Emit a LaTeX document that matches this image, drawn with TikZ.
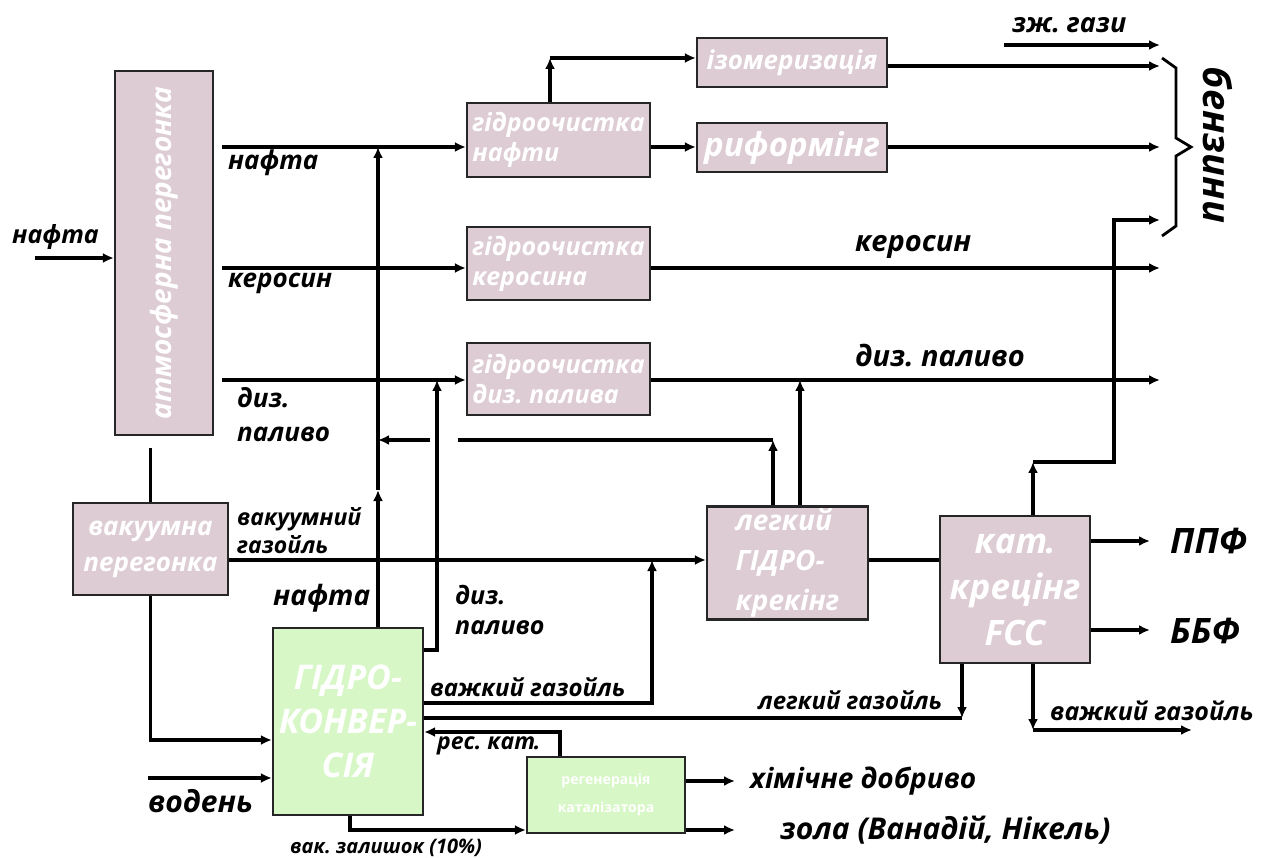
\documentclass[tikz,border=0pt]{standalone}
\usepackage{fontspec}
\setmainfont{Open Sans}
\usetikzlibrary{arrows.meta}
\definecolor{boxpink}{RGB}{221,204,211}
\definecolor{boxgreen}{RGB}{216,247,198}
\newcommand{\fs}[2]{\fontsize{#1}{#2}\selectfont}
\frenchspacing
\tikzset{
  ln/.style={line width=3.4pt, black},
  arr/.style={ln, -{Latex[length=11pt,width=10pt]}},
  pbox/.style={draw=black!85, line width=2.2pt, fill=boxpink, text=white,
    font=\bfseries\itshape\fs{25}{30}, inner sep=0pt, align=left},
  gbox/.style={pbox, fill=boxgreen},
  lbl/.style={font=\bfseries\itshape\fs{26}{30}, inner sep=0pt, anchor=west, align=left},
  slbl/.style={lbl, font=\bfseries\itshape\fs{23}{28}},
}
\begin{document}
\begin{tikzpicture}[x=1pt,y=-1pt]
\useasboundingbox (0,0) rectangle (1267,858);
% boxes
\node[pbox, minimum width=98pt, minimum height=364pt] (atm) at (164,253) {};
\node[text=white, font=\bfseries\itshape\fs{28}{30}, rotate=90] (atmtxt) at (atm.center) {атмосферна перегонка};
\node[pbox, minimum width=183pt, minimum height=74pt] (ghn) at (558.5,140) {гідроочистка\\нафти};
\node[pbox, minimum width=190pt, minimum height=49pt, font=\bfseries\itshape\fs{26}{30}] (iso) at (792,62.5) {ізомеризація};
\node[pbox, minimum width=190pt, minimum height=49pt, font=\bfseries\itshape\fs{33}{36}] (ref) at (792,147.5) {риформінг};
\node[pbox, minimum width=183pt, minimum height=73pt] (ghk) at (558.5,263.5) {гідроочистка\\керосина};
\node[pbox, minimum width=183pt, minimum height=72pt] (ghd) at (558.5,379) {гідроочистка\\диз. палива};
\node[pbox, minimum width=155pt, minimum height=92pt, align=center, font=\bfseries\itshape\fs{26}{36}] (vac) at (150.5,549) {вакуумна\\перегонка};
\node[gbox, minimum width=150pt, minimum height=187pt, align=center, font=\bfseries\itshape\fs{34}{44}] (gk) at (348,721.5) {ГІДРО-\\КОНВЕР-\\СІЯ};
\node[gbox, minimum width=158pt, minimum height=76pt, align=center, font=\bfseries\fs{14}{28}] (regen) at (606,795) {регенерація\\каталізатора};
\node[pbox, minimum width=161pt, minimum height=113pt, align=left, font=\bfseries\itshape\fs{28}{40}] (lhc) at (787.5,563) {легкий\\ГІДРО-\\крекінг};
\node[pbox, minimum width=150pt, minimum height=147pt, align=center, font=\bfseries\itshape\fs{35}{46}] (fcc) at (1015,589.5) {кат.\\крецінг\\FCC};

% coordinates
\coordinate (inA) at (35,258);
\coordinate (nafS) at (222,147);
\coordinate (kerS) at (222,268);
\coordinate (dizS) at (222,380);
\coordinate (isoT) at (550,58);
\coordinate (zhS) at (1004,45);
\coordinate (nv1) at (378,147);
\coordinate (nv2) at (378,490);
\coordinate (dv) at (437,380);
\coordinate (r1) at (773,440);
\coordinate (r2) at (458,440);
\coordinate (r3) at (430,440);
\coordinate (r4) at (378,440);
\coordinate (hv) at (800,380);
\coordinate (vtop) at (150.5,448);
\coordinate (hg) at (652,560);
\coordinate (lg) at (962,718);
\coordinate (fu) at (1033,462);
\coordinate (bz) at (1160,220);
\coordinate (hgd) at (1033,730);
\coordinate (hge) at (1192,730);
\coordinate (vodS) at (148,778);

% main streams
\draw[arr] (inA) -- (atm.west |- inA);
\draw[arr] (nafS) -- (ghn.west |- nafS);
\draw[arr] (kerS) -- (ghk.west |- kerS);
\draw[arr] (dizS) -- (ghd.west |- dizS);
\draw[arr] (ghn.north -| isoT) -- (isoT);
\draw[arr] (isoT) -- (iso.west |- isoT);
\draw[arr] (ghn.east |- nafS) -- (ref.west |- nafS);
\draw[arr] (iso.east |- 0,66) -- (1160,66);
\draw[arr] (ref.east |- nafS) -- (1160,147);
\draw[arr] (zhS) -- (1160,45);
\draw[arr] (ghk.east |- kerS) -- (1160,268);
\draw[arr] (ghd.east |- dizS) -- (1160,380);
% brace
\draw[line width=2.8pt, line join=miter] (1162,58) -- (1176,68) -- (1176,138) -- (1191,147) -- (1176,156) -- (1176,226) -- (1162,236);

% naphtha from hydroconversion
\draw[arr] (gk.north -| nv2) -- (nv2);
\draw[arr] (nv2) -- (nv1);
% diesel from hydroconversion
\draw[arr] (gk.east |- 0,650) -| (dv);
% return from light hydrocracking
\draw[arr] (lhc.north -| r1) -- (r1);
\draw[ln] (r1) -- (r2);
\draw[arr] (r3) -- (r4);
\draw[arr] (lhc.north -| hv) -- (hv);
% vacuum
\draw[ln] (vtop) -- (vac.north);
\draw[arr] (vac.east |- hg) -- (lhc.west |- hg);
\draw[arr] (vac.south) |- (gk.west |- 0,740);
\draw[arr] (vodS) -- (gk.west |- vodS);
\draw[arr] (gk.east |- 0,703) -| (hg);
\draw[arr] (fcc.south -| lg) -- (lg);
\draw[ln] (lg) -- (gk.east |- lg);
\draw[arr] (regen.north -| 560,0) |- (gk.east |- 0,732);
\draw[arr] (gk.south -| 350,0) |- (regen.west |- 0,830);
\draw[arr] (regen.east |- 0,781) -- (735,781);
\draw[arr] (regen.east |- 0,830) -- (735,830);
\draw[ln] (lhc.east |- hg) -- (fcc.west |- hg);
\draw[arr] (fcc.east |- 0,541) -- (1150,541);
\draw[arr] (fcc.east |- 0,630) -- (1150,630);
\draw[arr] (fcc.south -| hgd) -- (hgd);
\draw[arr] (hgd) -- (hge);
\draw[arr] (fcc.north -| fu) -- (fu);
\draw[arr] (fu) -| (bz -| 1114,0) -- (bz);

% labels
\node[lbl, font=\bfseries\itshape\fs{25}{30}] (l1) at (12,237) {нафта};
\node[lbl] (l2) at (228,163) {нафта};
\node[lbl] (l3) at (228,283) {керосин};
\node[lbl, font=\bfseries\itshape\fs{26}{34}] (l4) at (237,415) {диз.\\паливо};
\node[lbl, font=\bfseries\itshape\fs{25}{30}] (l5) at (455,610) {диз.\\паливо};
\node[slbl] (l6) at (237,531) {вакуумний\\газойль};
\node[lbl, font=\bfseries\itshape\fs{28}{32}] (l7) at (273,598) {нафта};
\node[lbl, font=\bfseries\itshape\fs{24}{28}] (l8) at (430,687) {важкий газойль};
\node[lbl, font=\bfseries\itshape\fs{23}{26}] (l9) at (437,746) {рес. кат.};
\node[slbl, font=\bfseries\itshape\fs{20}{24}] (l10) at (290,848) {вак. залишок (10\%)};
\node[lbl, font=\bfseries\itshape\fs{30}{34}] (l11) at (148,801) {водень};
\node[slbl, font=\bfseries\itshape\fs{24}{28}] (l12) at (758,700) {легкий газойль};
\node[slbl, font=\bfseries\itshape\fs{25}{28}] (l13) at (1050,711) {важкий газойль};
\node[lbl, font=\bfseries\itshape\fs{35}{40}] (l14) at (1170,541) {ППФ};
\node[lbl, font=\bfseries\itshape\fs{35}{40}] (l15) at (1170,631) {ББФ};
\node[lbl, font=\bfseries\itshape\fs{28}{32}] (l16) at (750,781) {хімічне добриво};
\node[lbl, font=\bfseries\itshape\fs{30}{34}] (l17) at (780,830) {зола (Ванадій, Нікель)};
\node[lbl, font=\bfseries\itshape\fs{29}{32}] (l18) at (855,247) {керосин};
\node[lbl, font=\bfseries\itshape\fs{29}{32}] (l19) at (855,356) {диз. паливо};
\node[lbl, font=\bfseries\itshape\fs{27}{30}] (l20) at (1012,25) {зж. гази};
\node[font=\bfseries\itshape\fs{38}{40}, rotate=-90, inner sep=0pt] (l21) at (1218,145) {бензини};
\end{tikzpicture}
\end{document}
